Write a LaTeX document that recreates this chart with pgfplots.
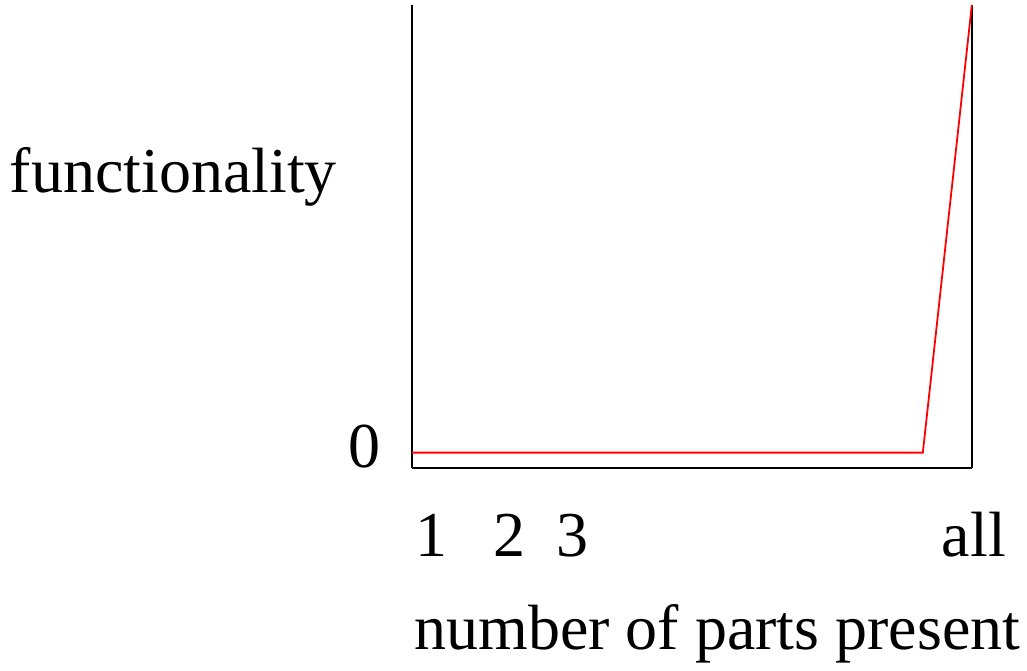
\documentclass[border=0pt]{standalone}
\usepackage{fontspec}
\setmainfont{Liberation Serif}
\usepackage{pgfplots}
\pgfplotsset{compat=1.18}
\begin{document}
\begin{tikzpicture}
\begin{axis}[
  scale only axis,
  width=280pt, height=231.5pt,
  xmin=0, xmax=560, ymin=0, ymax=463,
  clip=false,
  separate axis lines,
  axis x line=bottom,
  axis y line=box,
  x axis line style={-, line width=1.2pt},
  y axis line style={-, line width=1.2pt},
  major tick length=0pt,
  xtick={19.7,98,161},
  xticklabels={1,2,3},
  extra x ticks={560},
  extra x tick labels={all},
  extra x tick style={xticklabel style={xshift=1pt}},
  xticklabel style={anchor=base, yshift=-44.5pt, font=\fontsize{32}{38}\selectfont},
  ytick={15.3},
  yticklabels={0},
  yticklabel style={anchor=base east, xshift=-12pt, yshift=-7.4pt, font=\fontsize{32}{38}\selectfont},
]
\addplot[red, line width=0.9pt] coordinates {(0,15.3) (511,15.3) (560,463)};
\node[anchor=base east, font=\fontsize{32}{38}\selectfont] at (axis cs:-68,275) {functionality};
\node[anchor=base, font=\fontsize{32}{38}\selectfont] at (axis cs:305.5,-182) {number of parts present};
\path (axis cs:-412,-196) rectangle (axis cs:615,468);
\end{axis}
\end{tikzpicture}
\end{document}
